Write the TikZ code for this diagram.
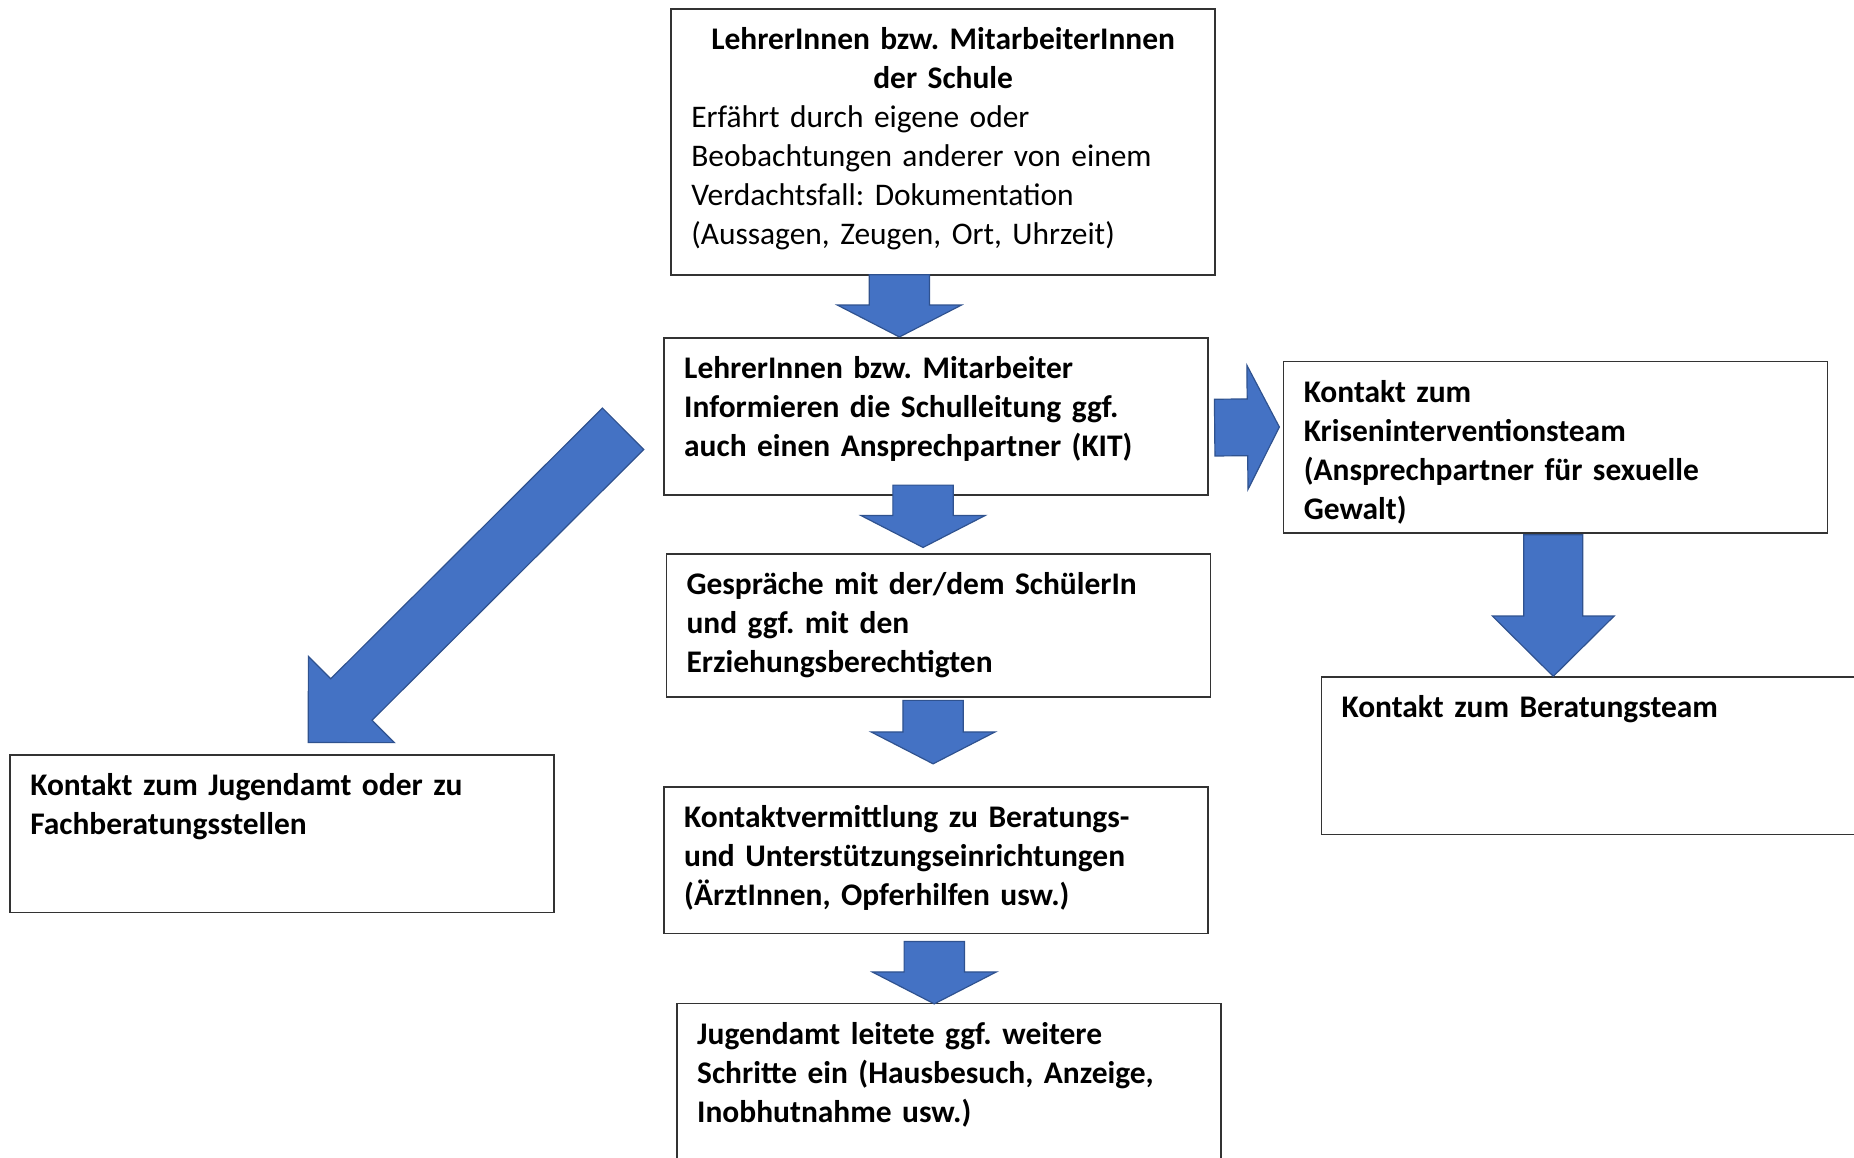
\documentclass[tikz,border=0pt]{standalone}
\usepackage{fontspec}
\setmainfont{Carlito}
\usetikzlibrary{calc}
\frenchspacing
\definecolor{pfeilblau}{HTML}{4472C4}
\definecolor{pfeilrand}{HTML}{2F528F}
\newcommand\kastenschrift{\fontsize{26.6}{33}\selectfont}
\tikzset{
	kasten/.style={draw=black!80, line width=1.3pt, anchor=north west, text width=426pt, inner xsep=17pt, inner ysep=0pt, align=left, font=\kastenschrift\bfseries, text height=34.5pt},
	pfeil/.style n args={3}{fill=pfeilblau, draw=pfeilrand, line width=1pt,
		to path={let \p1=(\tikztostart), \p2=(\tikztotarget), \n1={atan2(\y2-\y1,\x2-\x1)}, \n2={veclen(\x2-\x1,\y2-\y1)-#3} in
			($(\p1)+(\n1+90:#1)$) -- ($(\p1)+(\n1:\n2)+(\n1+90:#1)$) -- ($(\p1)+(\n1:\n2)+(\n1+90:#2)$) -- (\p2)
			-- ($(\p1)+(\n1:\n2)+(\n1-90:#2)$) -- ($(\p1)+(\n1:\n2)+(\n1-90:#1)$) -- ($(\p1)+(\n1-90:#1)$) -- cycle}},
}
\begin{document}
\begin{tikzpicture}[x=1pt,y=-1pt]
			\useasboundingbox (0,0) rectangle (1568,979);
			\node [kasten, font=\kastenschrift, text depth=190.5pt] (lehrer) at (567,7) {\makebox[\linewidth]{\bfseries LehrerInnen bzw. MitarbeiterInnen}\\\makebox[\linewidth]{\bfseries der Schule}\\Erfährt durch eigene oder\\Beobachtungen anderer von einem\\Verdachtsfall: Dokumentation\\(Aussagen, Zeugen, Ort, Uhrzeit)};
			\node [kasten, text depth=98.5pt] (info) at (561,285) {LehrerInnen bzw. Mitarbeiter\\Informieren die Schulleitung ggf.\\auch einen Ansprechpartner (KIT)};
			\node [kasten, text depth=110.5pt] (kit) at (1085,305) {Kontakt zum\\Kriseninterventionsteam\\(Ansprechpartner für sexuelle\\Gewalt)};
			\node [kasten, text depth=86.5pt] (gespraech) at (563,468) {Gespräche mit der/dem SchülerIn\\und ggf. mit den\\Erziehungsberechtigten};
			\node [kasten, text depth=98.5pt] (team) at (1117,572) {Kontakt zum Beratungsteam};
			\node [kasten, text depth=98.5pt] (jugendamt) at (8,638) {Kontakt zum Jugendamt oder zu\\Fachberatungsstellen};
			\node [kasten, text depth=89.5pt] (vermittlung) at (561,665) {Kontaktvermittlung zu Beratungs-\\und Unterstützungseinrichtungen\\(ÄrztInnen, Opferhilfen usw.)};
			\node [kasten, text depth=105.5pt] (schritte) at (572,848) {Jugendamt leitete ggf. weitere\\Schritte ein (Hausbesuch, Anzeige,\\Inobhutnahme usw.)};
			\draw [pfeil={25.5pt}{52.5pt}{27pt}] ($(lehrer.south)+(-37,-1)$) to ($(info.north)+(-31,0)$);
			\draw [pfeil={25.5pt}{52.5pt}{27pt}] ($(info.south)+(-11,-9)$) to ($(gespraech.north)+(-13,-5)$);
			\draw [pfeil={25.5pt}{52.5pt}{27pt}] ($(gespraech.south)+(-4.5,2)$) to ($(vermittlung.north)+(-2.5,-19)$);
			\draw [pfeil={25.5pt}{52.5pt}{27pt}] ($(vermittlung.south)+(-1.5,6)$) to ($(schritte.north)+(-12.5,1)$);
			\draw [pfeil={24pt}{52.5pt}{27pt}] ($(info.east)+(5,9.5)$) to ($(kit.west)+(-3,-17)$);
			\draw [pfeil={25pt}{51.5pt}{51pt}] ($(kit.south)+(-2,1)$) to ($(team.north)+(-34,0)$);
			\draw [pfeil={24.75pt}{51.5pt}{51.6pt}] ($(info.west)+(-34,10.5)$) to ($(jugendamt.north)+(22,-10)$);
		\end{tikzpicture}
\end{document}
